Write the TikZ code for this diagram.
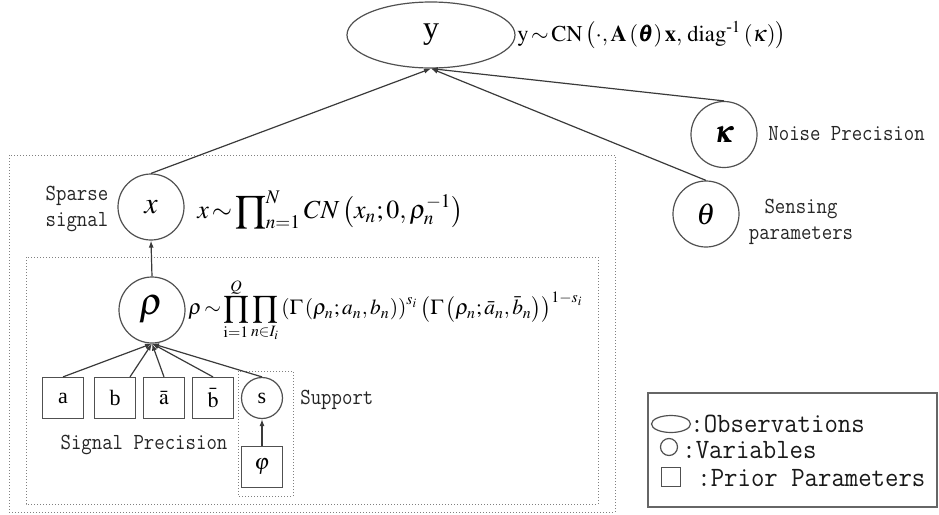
\documentclass[tikz,border=0pt]{standalone}
\usepackage{amsmath}
\usepackage{mathptmx}
\usepackage{bm}
\usepackage[no-math]{fontspec}
\setmainfont{Liberation Serif}
\newfontfamily\monofont[FakeStretch=0.88]{Latin Modern Mono}
\newfontfamily\legfont[FakeStretch=0.93]{Latin Modern Mono}
\usetikzlibrary{arrows.meta,shapes.geometric}
\definecolor{edgecol}{HTML}{3A3A3A}
\definecolor{nodecol}{HTML}{505050}
\tikzset{
  var/.style={circle,draw=nodecol,line width=0.6pt,minimum size=33pt,inner sep=0pt,
    font=\fontsize{15}{18}\selectfont},
  prm/.style={rectangle,draw=nodecol,line width=0.6pt,minimum size=20.5pt,inner sep=0pt,
    font=\fontsize{11}{12}\selectfont},
  lbl/.style={inner sep=0pt,text=black!85,font=\monofont\fontsize{11.5}{12}\selectfont},
  leg/.style={inner sep=0pt,text=black!90,font=\legfont\fontsize{14}{15}\selectfont},
  frm/.style={inner sep=0pt,anchor=west},
  arr/.style={draw=edgecol,line width=0.6pt,-{Latex[length=3.5pt,width=2.5pt]}},
  dbox/.style={draw=gray,densely dotted,line width=0.5pt},
}
\begin{document}
\begin{tikzpicture}[x={(0.5pt,0)},y={(0,-0.5pt)}]
\useasboundingbox (0,0) rectangle (939,515);
% plates
\draw[dbox] (9,155) rectangle (615,512);
\draw[dbox] (26,257) rectangle (598,504);
\draw[dbox] (238,371) rectangle (293,496);
% observation
\node[ellipse,draw=nodecol,line width=0.6pt,minimum width=84pt,minimum height=33pt,inner sep=0pt,
  font=\fontsize{16}{18}\selectfont] (y) at (431,35) {y};
\node[frm,font=\fontsize{11.3}{13}\selectfont] (yform) at (517,35)
  {$\mathrm{y}\!\sim\!\mathrm{CN}\left(\cdot,\mathbf{A}\left(\bm{\theta}\right)\mathbf{x},\,\mathrm{diag}^{\text{-}1}\left(\kappa\right)\right)$};
% noise and sensing
\node[var] (kappa) at (724,134.5) {$\bm{\kappa}$};
\node[lbl,anchor=west] (noise) at (768,134) {Noise Precision};
\node[var] (theta) at (706,214) {$\theta$};
\node[lbl,align=center] (sens) at (801,222) {Sensing\\[1pt]parameters};
% signal
\node[var] (x) at (151,207) {$x$};
\node[lbl,align=left] (sparse) at (77,209) {Sparse\\[1pt]signal};
\node[frm,font=\fontsize{13}{15}\selectfont] (xform) at (197,210)
  {$x\!\sim\!\displaystyle\prod\nolimits_{n=1}^{N} CN\left(x_n;0,\rho_n^{-1}\right)$};
% precision
\node[var,font=\fontsize{19}{20}\selectfont] (rho) at (152,310) {$\rho$};
\node[frm,font=\fontsize{10.7}{13}\selectfont] (rform) at (188,310)
  {$\rho\!\sim\!\displaystyle\prod_{\mathrm{i}=1}^{Q}\prod_{n\in I_i}\left(\Gamma\left(\rho_n;a_n,b_n\right)\right)^{s_i}\left(\Gamma\left(\rho_n;\bar{a}_n,\bar{b}_n\right)\right)^{1-s_i}$};
% parameters
\node[prm] (a) at (63,398) {a};
\node[prm] (b) at (115,398) {b};
\node[prm] (abar) at (164,398) {$\bar{\mathrm{a}}$};
\node[prm] (bbar) at (213,398) {$\bar{\mathrm{b}}$};
\node[circle,draw=nodecol,line width=0.6pt,minimum size=20.5pt,inner sep=0pt,
  font=\fontsize{11}{12}\selectfont] (s) at (262,398) {s};
\node[prm] (phi) at (262,467) {$\varphi$};
\node[lbl,anchor=west] (support) at (300,400) {Support};
\node[lbl] (sigprec) at (144,445) {Signal Precision};
% edges
\draw[arr] (x.north) -- (y.south);
\draw[arr] (kappa.north) -- (y.south);
\draw[arr] (theta.north) -- (y.south);
\draw[arr] (rho.north) -- (x.south);
\draw[arr] (a.north) -- (rho.south);
\draw[arr] ([xshift=7.5pt]b.north) -- (rho.south);
\draw[arr] (abar.north) -- (rho.south);
\draw[arr] (bbar.north) -- (rho.south);
\draw[arr] (s.north) -- (rho.south);
\draw[arr] (phi.north) -- (s.south);
% legend
\draw[draw=gray!80!black,line width=0.7pt] (648,393) rectangle (937,507);
\node[ellipse,draw=nodecol,line width=0.6pt,minimum width=19.5pt,minimum height=8.5pt,inner sep=0pt] (lell) at (671,424) {};
\node[leg,anchor=west] (lobs) at (690,424) {:Observations};
\node[circle,draw=nodecol,line width=0.6pt,minimum size=8.5pt,inner sep=0pt] (lcirc) at (669,447) {};
\node[leg,anchor=west] (lvar) at (682,450) {:Variables};
\node[rectangle,draw=nodecol,line width=0.6pt,minimum size=9.5pt,inner sep=0pt] (lsq) at (671,477) {};
\node[leg,anchor=west] (lpri) at (697,478) {:Prior Parameters};
\end{tikzpicture}
\end{document}
